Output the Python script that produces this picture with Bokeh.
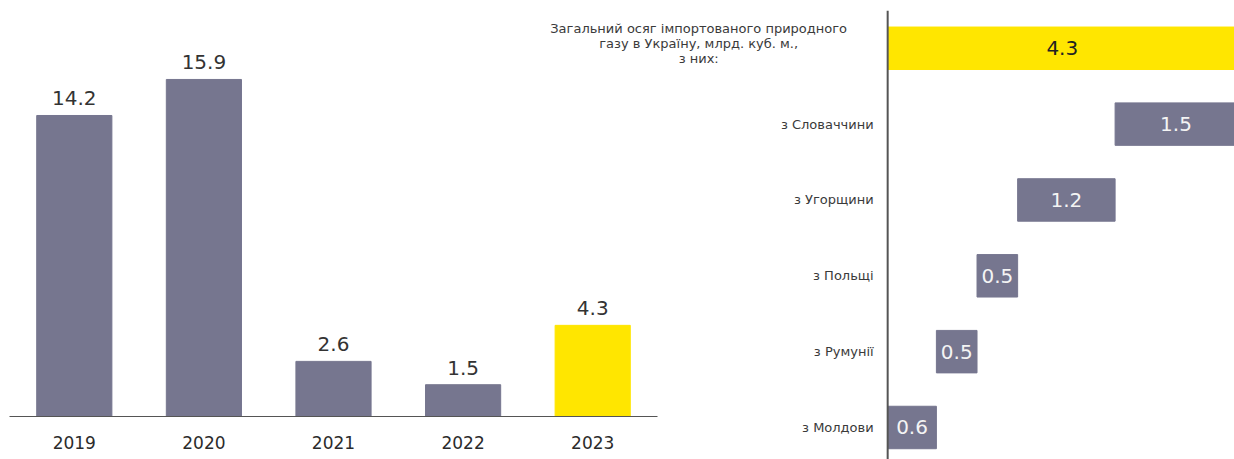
from bokeh.plotting import figure
from bokeh.models import ColumnDataSource, Range1d, Span
from bokeh.layouts import row
from bokeh.embed import file_html
from bokeh.resources import INLINE
from bokeh.core.properties import value

# ---------------- data ----------------
years = ["2019", "2020", "2021", "2022", "2023"]
volumes = [14.2, 15.9, 2.6, 1.5, 4.3]
highlight_year = "2023"

total_label = "Загальний осяг імпортованого природного\nгазу в Україну, млрд. куб. м.,\nз них:"
total_value = 4.3
countries = ["з Словаччини", "з Угорщини", "з Польщі", "з Румунії", "з Молдови"]
country_values = [1.5, 1.2, 0.5, 0.5, 0.6]

# ---------------- styles ----------------
GRAY = "#76768F"
YELLOW = "#FFE600"
FONT = "DejaVu Sans"

# ---------------- left chart ----------------
left = figure(width=668, height=459, x_range=years, y_range=Range1d(0, 18.87),
              output_backend="svg", toolbar_location=None, y_axis_location=None,
              min_border_left=9, min_border_right=11, min_border_top=16, min_border_bottom=43,
              frame_align=False)
left.outline_line_color = None
left.grid.visible = False

lsrc = ColumnDataSource(dict(
    x=years, top=volumes,
    color=[YELLOW if y == highlight_year else GRAY for y in years],
    label=[f"{v:.1f}" for v in volumes],
))
left.vbar(x="x", top="top", width=0.58, color="color", source=lsrc)
left.text(x="x", y="top", text="label", source=lsrc, text_align="center",
          text_baseline="alphabetic", y_offset=-17, text_font=value(FONT),
          text_font_size="20px", text_color="#333333")

xa = left.xaxis[0]
xa.axis_line_color = "#555555"
xa.axis_line_width = 1
xa.major_tick_line_color = None
xa.minor_tick_line_color = None
xa.major_label_text_font = FONT
xa.major_label_text_font_size = "17px"
xa.major_label_text_color = "#2b2b2b"
xa.major_label_standoff = 13

# ---------------- right chart (waterfall) ----------------
n = len(countries)
pos = [n - 1 - i for i in range(n)]          # top country highest
lefts = [0.0] * n
acc = 0.0
for i in reversed(range(n)):
    lefts[i] = acc
    acc += country_values[i]
rights = [lefts[i] + country_values[i] for i in range(n)]
total_pos = n

right = figure(width=716, height=459, x_range=Range1d(-4.545, 4.27), y_range=Range1d(-0.422, 5.498),
               output_backend="svg", toolbar_location=None,
               x_axis_location=None, y_axis_location=None,
               min_border_left=0, min_border_right=0, min_border_top=10, min_border_bottom=0,
               margin=(0, 0, 0, -150), frame_align=False)
right.background_fill_color = None
right.border_fill_color = None
right.outline_line_color = None
right.grid.visible = False

rsrc = ColumnDataSource(dict(
    y=pos + [total_pos],
    left=lefts + [0.0],
    right=rights + [total_value],
    color=[GRAY] * n + [YELLOW],
    tcolor=["#f4f4f4"] * n + ["#222222"],
    label=[f"{v:.1f}" for v in country_values] + [f"{total_value:.1f}"],
))
rsrc.data["mid"] = [(a + b) / 2 for a, b in zip(rsrc.data["left"], rsrc.data["right"])]
right.hbar(y="y", left="left", right="right", height=0.56, color="color", source=rsrc)
right.text(x="mid", y="y", text="label", source=rsrc, text_align="center",
           text_baseline="middle", text_font=value(FONT), text_font_size="20px",
           text_color="tcolor")

# category axis line at zero
right.add_layout(Span(location=0, dimension="height", line_color="#555555", line_width=2))

# category labels
csrc = ColumnDataSource(dict(x=[0.0] * n, y=pos, name=countries))
right.text(x="x", y="y", text="name", source=csrc, x_offset=-14, text_align="right",
           text_baseline="middle", text_font=value(FONT), text_font_size="13px",
           text_color="#3a3a3a")
tsrc = ColumnDataSource(dict(x=[0.0], y=[total_pos], name=[total_label]))
right.text(x="x", y="y", text="name", source=tsrc, x_offset=-189, y_offset=-5,
           text_align="center", text_baseline="middle", text_font=value(FONT),
           text_font_size="13px", text_line_height=1.0, text_color="#3a3a3a")

layout = row(left, right)
open("out.html", "w").write(file_html(layout, INLINE))
